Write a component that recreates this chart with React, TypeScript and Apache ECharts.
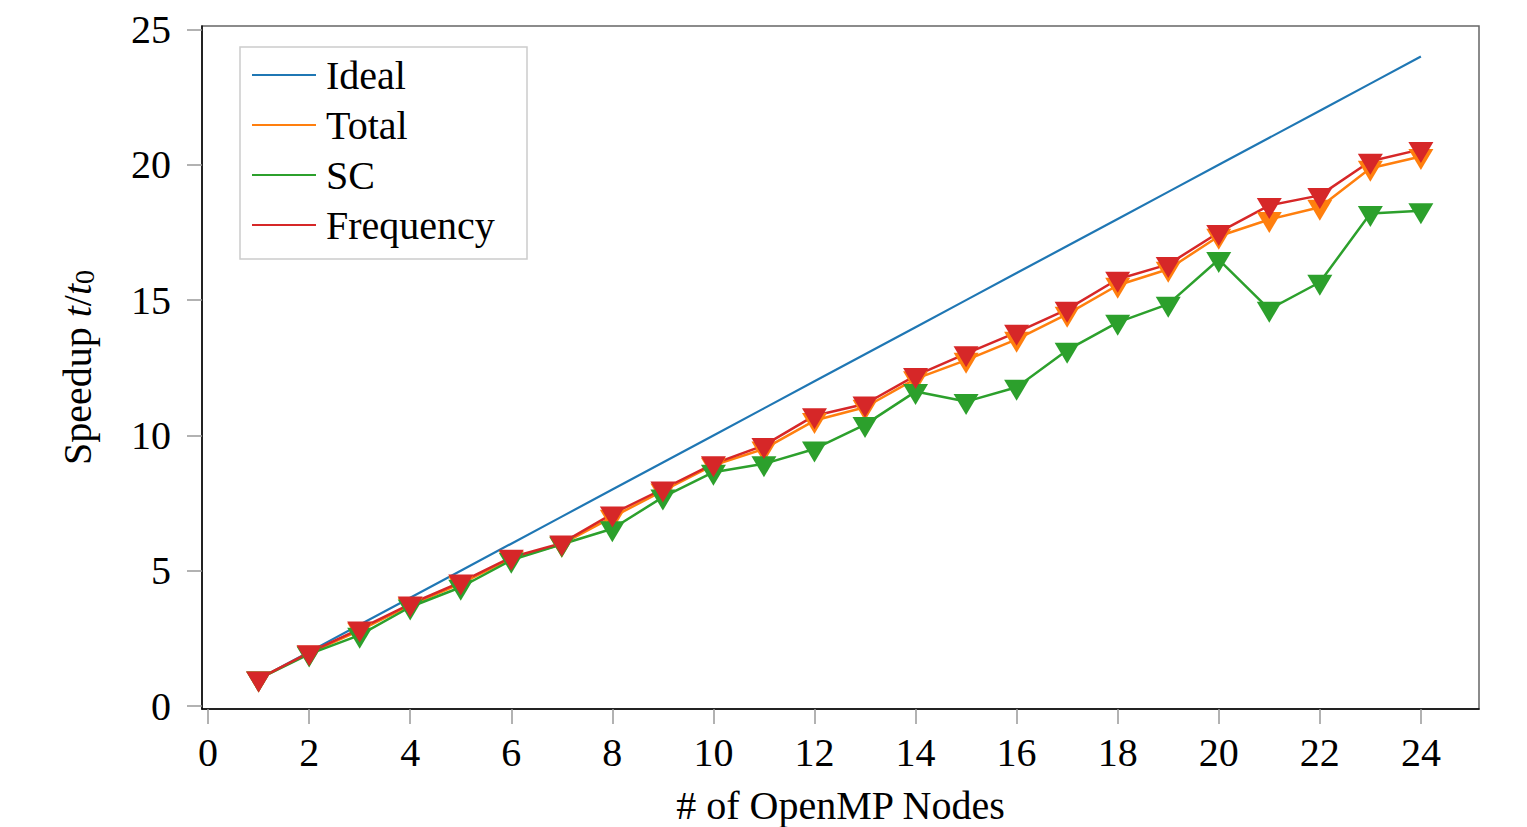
import React, { useEffect, useRef } from "react";
import * as echarts from "echarts";

// Node counts on the x axis and the measured speedups per component
const nodes = [1, 2, 3, 4, 5, 6, 7, 8, 9, 10, 11, 12, 13, 14, 15, 16, 17, 18, 19, 20, 21, 22, 23, 24];
const ideal = [1, 2, 3, 4, 5, 6, 7, 8, 9, 10, 11, 12, 13, 14, 15, 16, 17, 18, 19, 20, 21, 22, 23, 24];
const total = [1.0, 1.95, 2.8, 3.72, 4.52, 5.45, 5.98, 6.98, 7.95, 8.9, 9.5, 10.55, 11.04, 12.09, 12.78, 13.55, 14.48, 15.55, 16.14, 17.36, 17.98, 18.43, 19.87, 20.31];
const sc = [1.0, 1.92, 2.62, 3.66, 4.39, 5.39, 5.98, 6.55, 7.72, 8.64, 8.95, 9.5, 10.4, 11.62, 11.25, 11.78, 13.15, 14.18, 14.85, 16.5, 14.66, 15.66, 18.2, 18.3];
const frequency = [1.0, 1.97, 2.85, 3.77, 4.58, 5.5, 6.02, 7.1, 8.02, 8.95, 9.63, 10.73, 11.16, 12.21, 13.02, 13.81, 14.66, 15.77, 16.32, 17.5, 18.5, 18.87, 20.13, 20.57];

const xTicks = [0, 2, 4, 6, 8, 10, 12, 14, 16, 18, 20, 22, 24];
const yTicks = [0, 5, 10, 15, 20, 25];

const seriesNames = ["Ideal", "Total", "SC", "Frequency"];
const colors = ["#1f77b4", "#ff7f0e", "#2ca02c", "#d62728"];

const FONT = "Liberation Serif";

const pairs = (ys: number[]) => nodes.map((x, i) => [x, ys[i]]);

export default function App() {
  const ref = useRef<HTMLDivElement>(null);

  useEffect(() => {
    if (!ref.current) return;
    const chart = echarts.init(ref.current, null, { renderer: "svg" });

    const markerSeries = (name: string, ys: number[], color: string) => ({
      name,
      type: "line",
      data: pairs(ys),
      symbol: "triangle",
      symbolRotate: 180,
      symbolSize: [25, 21],
      symbolOffset: [0, 3],
      showSymbol: true,
      lineStyle: { color, width: 2.5 },
      itemStyle: { color },
      emphasis: { disabled: true },
    });

    chart.setOption({
      animation: false,
      backgroundColor: "#fff",
      color: colors,
      grid: {
        left: 202,
        right: 48,
        top: 26,
        bottom: 118,
        show: true,
        borderColor: "#666",
        borderWidth: 1.5,
        containLabel: false,
        outerBoundsMode: "none",
      },
      xAxis: {
        type: "value",
        min: -0.12,
        max: 25.15,
        splitLine: { show: false },
        axisLine: { show: true, onZero: false, lineStyle: { color: "#000", width: 1.5 } },
        axisTick: {
          show: true,
          inside: false,
          length: 15,
          customValues: xTicks,
          lineStyle: { color: "#999", width: 1.5 },
        },
        axisLabel: {
          customValues: xTicks,
          margin: 23,
          fontFamily: FONT,
          fontSize: 40,
          color: "#000",
        },
        name: "# of OpenMP Nodes",
        nameLocation: "middle",
        nameGap: 76,
        nameTextStyle: { fontFamily: FONT, fontSize: 40, color: "#000" },
      },
      yAxis: {
        type: "value",
        min: -0.11,
        max: 25.13,
        splitLine: { show: false },
        axisLine: { show: true, onZero: false, lineStyle: { color: "#000", width: 1.5 } },
        axisTick: {
          show: true,
          inside: false,
          length: 15,
          customValues: yTicks,
          lineStyle: { color: "#999", width: 1.5 },
        },
        axisLabel: {
          customValues: yTicks,
          margin: 31,
          fontFamily: FONT,
          fontSize: 40,
          color: "#000",
        },
        name: "{n|Speedup }{i|t}{n|/}{i|t}{s|0}",
        nameLocation: "middle",
        nameGap: 104,
        nameRotate: 90,
        nameTextStyle: {
          fontFamily: FONT,
          fontSize: 40,
          color: "#000",
          rich: {
            n: { fontFamily: FONT, fontSize: 40, color: "#000" },
            i: { fontFamily: FONT, fontSize: 40, fontStyle: "italic", color: "#000" },
            s: { fontFamily: FONT, fontSize: 28, color: "#000", padding: [14, 0, 0, 0] },
          },
        },
      },
      legend: {
        orient: "vertical",
        left: 240,
        top: 47,
        padding: [8, 20, 13, 12],
        itemWidth: 64,
        itemHeight: 2,
        itemGap: 10,
        icon: "rect",
        selectedMode: false,
        textStyle: {
          fontFamily: FONT,
          fontSize: 40,
          lineHeight: 40,
          color: "#000",
          padding: [0, 0, 0, 5],
        },
        data: seriesNames.map((n, i) => ({ name: n, itemStyle: { color: colors[i] } })),
        z: 10,
      },
      graphic: [
        {
          type: "rect",
          z: 5,
          shape: { x: 240, y: 47, width: 287, height: 212 },
          style: { fill: "#fff", stroke: "#ccc", lineWidth: 1.5 },
        },
      ],
      series: [
        {
          name: "Ideal",
          type: "line",
          data: pairs(ideal),
          symbol: "none",
          lineStyle: { color: colors[0], width: 2.2 },
          itemStyle: { color: colors[0] },
          emphasis: { disabled: true },
        },
        markerSeries("Total", total, colors[1]),
        markerSeries("SC", sc, colors[2]),
        markerSeries("Frequency", frequency, colors[3]),
      ],
    });

    return () => chart.dispose();
  }, []);

  return (
    <div
      ref={ref}
      style={{ position: "absolute", left: 0, top: 0, width: 1527, height: 827 }}
    />
  );
}
